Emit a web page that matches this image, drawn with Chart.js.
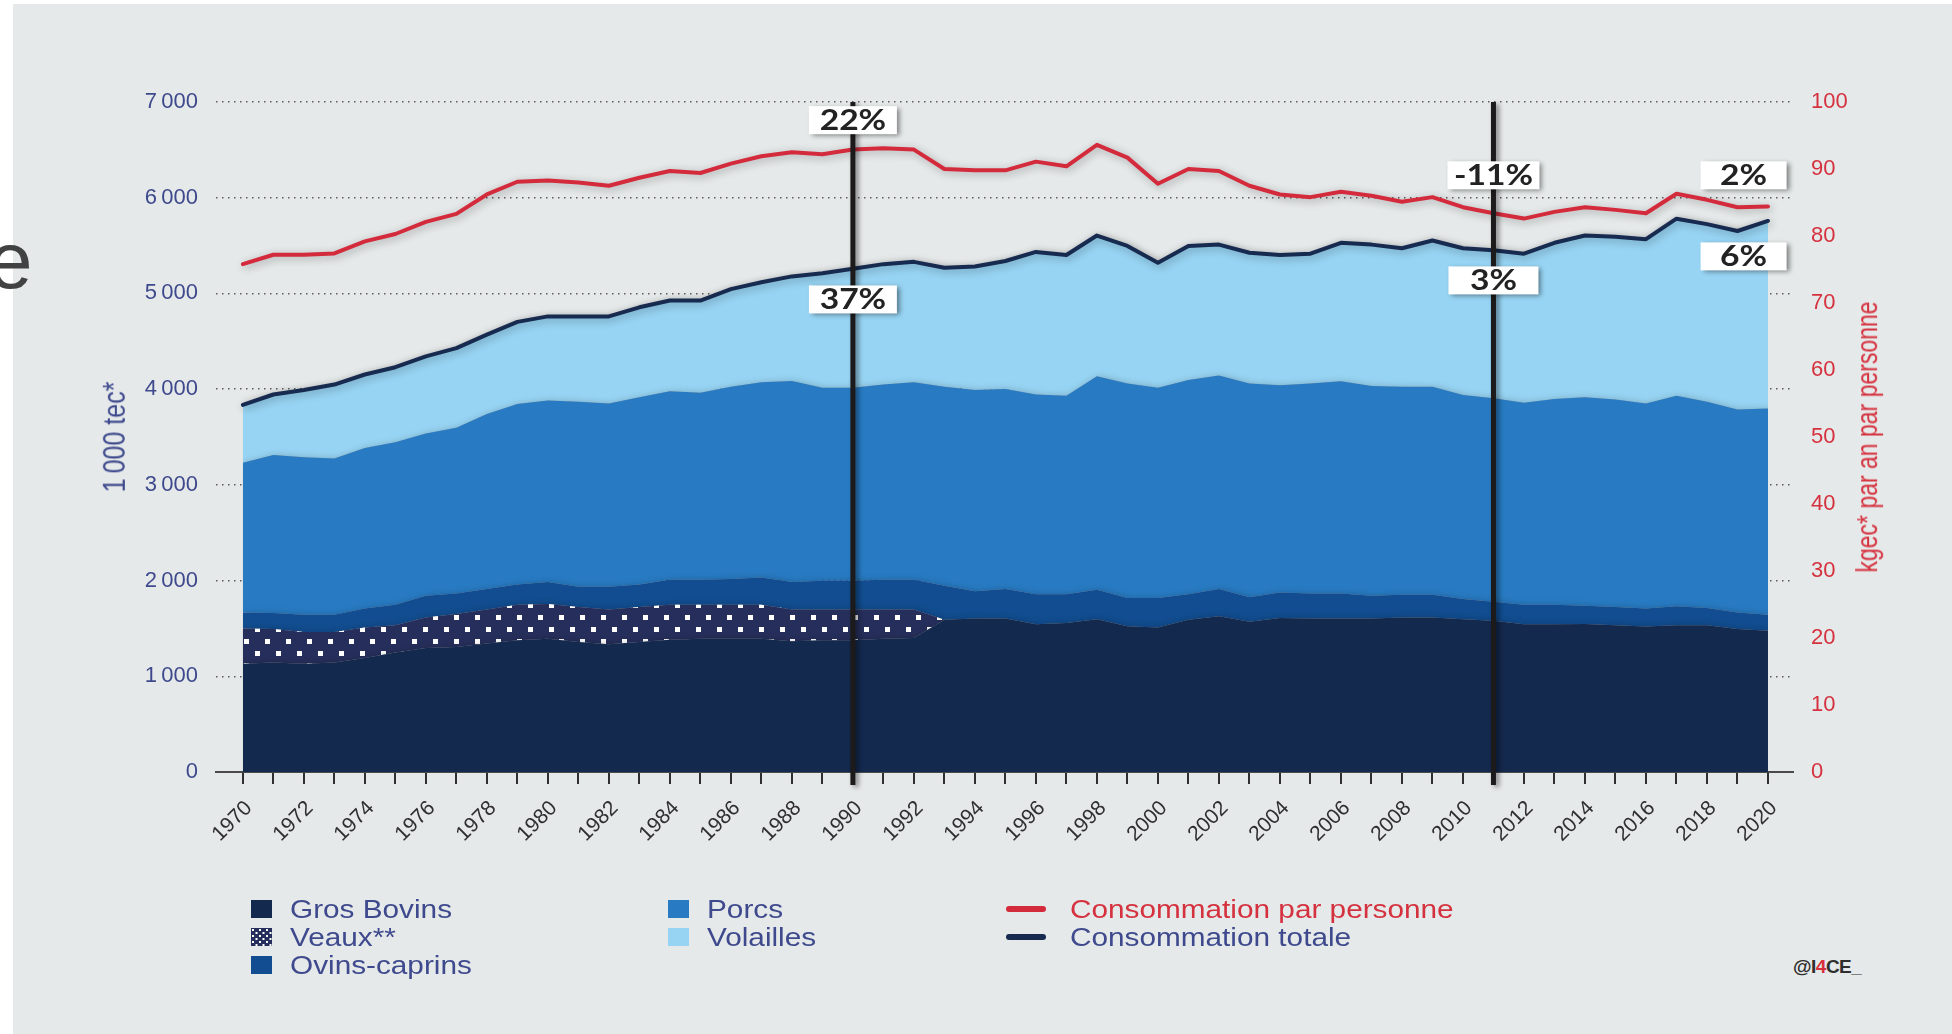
<!DOCTYPE html>
<html lang="fr">
<head>
<meta charset="utf-8">
<title>Consommation de viande en France, 1970-2020</title>
<script src="https://cdn.jsdelivr.net/npm/chart.js@4.4.1/dist/chart.umd.min.js"></script>
<style>
  html, body { margin: 0; padding: 0; }
  body {
    width: 1952px; height: 1034px; position: relative; overflow: hidden;
    background: #ffffff;
    font-family: 'Liberation Sans', Arial, sans-serif;
  }
  #panel { position: absolute; left: 13px; top: 4px; width: 1939px; height: 1030px; background: #e6e9e9; }
  #chart { position: absolute; left: 0; top: 0; }
  #stray { position: absolute; left: -12px; top: 221px; font-size: 80px; line-height: 80px; color: #424242; }
  .axis-title {
    position: absolute; white-space: nowrap;
    transform: translate(-50%, -50%) rotate(-90deg) scaleY(1.25);
  }
  #title-left  { left: 114px;  top: 437px; color: #3e4a8d; font-size: 25px; }
  #title-right { left: 1868px; top: 437px; color: #d5323f; font-size: 23px; }

  #legend {
    position: absolute; left: 251px; top: 895px;
    display: grid; grid-template-columns: 417px 338px 400px; grid-template-rows: repeat(3, 28px);
  }
  .lg-item { display: flex; align-items: center; }
  .lg-box { width: 21px; height: 18px; flex: none; }
  .lg-line { width: 40px; height: 6px; border-radius: 3px; flex: none; margin-right: 6px; }
  .lg-text {
    display: inline-block; margin-left: 18px; font-size: 25px; color: #3e4a8d;
    transform: scaleX(1.19); transform-origin: left center; white-space: nowrap;
  }
  #credit { position: absolute; left: 1793px; top: 956px; font-size: 19px; font-weight: bold; color: #2e2e2e; letter-spacing: -0.5px; }
  #credit span { color: #d6303c; }
</style>
</head>
<body>
<div id="panel"></div>
<div id="stray">e</div>
<canvas id="chart" width="1952" height="860"></canvas>
<div class="axis-title" id="title-left">1&#8239;000 tec*</div>
<div class="axis-title" id="title-right">kgec* par an par personne</div>
<div id="legend"></div>
<div id="credit">@I<span>4</span>CE_</div>

<script>
/* ── Data (1 000 tec) ──────────────────────────────────── */
const years = Array.from({ length: 51 }, (_, i) => 1970 + i);

const grosBovins = [
  1130, 1144, 1130, 1144, 1191, 1248, 1296, 1305, 1343, 1376,
  1391, 1357, 1334, 1357, 1381, 1391, 1391, 1391, 1367, 1376,
  1376, 1391, 1400, 1590, 1604, 1604, 1543, 1557, 1595, 1523,
  1509, 1590, 1628, 1571, 1609, 1604, 1604, 1604, 1614, 1614,
  1595, 1580, 1543, 1543, 1547, 1533, 1519, 1533, 1533, 1495, 1476
];
const veaux = [
  370, 351, 332, 318, 318, 285, 318, 347, 356, 371,
  365, 366, 365, 366, 366, 356, 356, 356, 332, 323,
  323, 308, 299, 0, 0, 0, 0, 0, 0, 0,
  0, 0, 0, 0, 0, 0, 0, 0, 0, 0,
  0, 0, 0, 0, 0, 0, 0, 0, 0, 0, 0
];
const ovinsCaprins = [
  166, 166, 180, 180, 200, 214, 227, 213, 214, 213,
  228, 213, 237, 237, 261, 261, 270, 284, 285, 299,
  299, 309, 309, 356, 285, 309, 313, 299, 308, 295,
  309, 266, 285, 256, 266, 261, 261, 237, 237, 237,
  213, 200, 204, 204, 190, 190, 190, 199, 180, 171, 166
];
const porcs = [
  1566, 1652, 1647, 1633, 1675, 1699, 1695, 1732, 1827, 1884,
  1898, 1932, 1913, 1955, 1969, 1955, 2008, 2041, 2102, 2017,
  2017, 2040, 2064, 2079, 2102, 2088, 2088, 2074, 2231, 2240,
  2197, 2240, 2230, 2231, 2165, 2193, 2217, 2193, 2174, 2174,
  2131, 2126, 2112, 2149, 2178, 2169, 2140, 2198, 2155, 2121, 2155
];
const volailles = [
  603, 631, 702, 773, 769, 783, 807, 831, 830, 859,
  878, 892, 911, 940, 949, 963, 1020, 1044, 1092, 1196,
  1243, 1258, 1258, 1243, 1291, 1338, 1490, 1471, 1471, 1438,
  1305, 1400, 1367, 1367, 1361, 1357, 1447, 1476, 1447, 1528,
  1533, 1544, 1556, 1633, 1690, 1699, 1718, 1851, 1856, 1865, 1960
];
// kgec par an par personne (right axis)
const parPersonne = [
  75.8, 77.2, 77.2, 77.4, 79.2, 80.3, 82.1, 83.3, 86.2, 88.1,
  88.3, 88.0, 87.5, 88.7, 89.7, 89.4, 90.8, 91.9, 92.5, 92.2,
  92.9, 93.1, 92.9, 90.0, 89.8, 89.8, 91.1, 90.4, 93.6, 91.7,
  87.8, 90.0, 89.7, 87.5, 86.2, 85.8, 86.6, 86.0, 85.1, 85.8,
  84.3, 83.4, 82.6, 83.6, 84.3, 83.9, 83.4, 86.3, 85.4, 84.3, 84.4
];

const leftTicks  = [0, 1000, 2000, 3000, 4000, 5000, 6000, 7000];
const rightTicks = [0, 10, 20, 30, 40, 50, 60, 70, 80, 90, 100];

/* ── Annotations ──────────────────────────────────────── */
const markerYears = [1990, 2011];
const callouts = [
  { year: 1990,   value: 6810, text: '22%',  w: 88 },
  { year: 1990,   value: 4937, text: '37%',  w: 88 },
  { year: 2011,   value: 6234, text: '-11%', w: 92 },
  { year: 2011,   value: 5136, text: '3%',   w: 90 },
  { year: 2019.2, value: 6234, text: '2%',   w: 86 },
  { year: 2019.2, value: 5387, text: '6%',   w: 86 },
];

/* ── Colours ──────────────────────────────────────────── */
const C = {
  bovins: '#14294e', veaux: '#262f5b', ovins: '#114d90', porcs: '#287bc3', volailles: '#97d4f3',
  total: '#172a50', red: '#d42b3c', blue: '#3e4a8d', redText: '#d5323f', grid: '#5c5c5c'
};

function dotTile(w, h, dots, size) {
  const c = document.createElement('canvas');
  c.width = w; c.height = h;
  const g = c.getContext('2d');
  g.fillStyle = C.veaux;
  g.fillRect(0, 0, w, h);
  g.fillStyle = '#ffffff';
  dots.forEach(([dx, dy]) => g.fillRect(dx, dy, size, size));
  return c;
}
const veauxPattern = document.createElement('canvas').getContext('2d')
  .createPattern(dotTile(21, 24, [[3, 3], [13, 15]], 5), 'repeat');

const pts = arr => years.map((yr, i) => ({ x: yr, y: arr[i] }));
const totals = years.map((_, i) => grosBovins[i] + veaux[i] + ovinsCaprins[i] + porcs[i] + volailles[i]);

const area = (label, arr, bg, fill) => ({
  label, data: pts(arr), backgroundColor: bg, fill, yAxisID: 'y',
  borderWidth: 0, borderColor: 'transparent', pointRadius: 0, tension: 0, order: 1
});

/* ── Plugins ──────────────────────────────────────────── */
const shadowPlugin = {
  id: 'softShadow',
  beforeDatasetsDraw(chart) {
    const ctx = chart.ctx;
    ctx.save();
    ctx.shadowColor = 'rgba(0,0,0,0.32)';
    ctx.shadowBlur = 9;
    ctx.shadowOffsetX = 2;
    ctx.shadowOffsetY = 2;
  },
  afterDatasetsDraw(chart) {
    chart.ctx.restore();
  }
};

const markerPlugin = {
  id: 'markers',
  afterDatasetsDraw(chart) {
    const { ctx, scales: { x, y } } = chart;
    ctx.save();
    ctx.shadowColor = 'rgba(0,0,0,0.45)';
    ctx.shadowBlur = 5;
    ctx.shadowOffsetX = 3;
    ctx.shadowOffsetY = 2;
    const top = y.getPixelForValue(7000);
    const bottom = y.getPixelForValue(0) + 13;
    ctx.fillStyle = '#1c1a1a';
    markerYears.forEach(yr => {
      const px = x.getPixelForValue(yr);
      ctx.fillRect(px - 2.5, top, 5, bottom - top);
    });
    callouts.forEach(c => {
      const cx = x.getPixelForValue(c.year);
      const cy = y.getPixelForValue(c.value);
      ctx.fillStyle = '#ffffff';
      ctx.fillRect(cx - c.w / 2, cy - 14, c.w, 28);
    });
    ctx.shadowColor = 'transparent';
    ctx.fillStyle = '#222222';
    ctx.font = 'bold 28px Lato, "Open Sans", sans-serif';
    ctx.textAlign = 'center';
    ctx.textBaseline = 'middle';
    callouts.forEach(c => {
      const cx = x.getPixelForValue(c.year);
      const cy = y.getPixelForValue(c.value);
      ctx.save();
      ctx.translate(cx, cy + 1);
      ctx.scale(1.2, 1);
      ctx.fillText(c.text, 0, 0);
      ctx.restore();
    });
    ctx.restore();
  }
};

/* ── Chart ────────────────────────────────────────────── */
const tickFont = { family: "'Liberation Sans', Arial, sans-serif", size: 22 };

new Chart(document.getElementById('chart'), {
  type: 'line',
  data: {
    datasets: [
      area('Gros Bovins', grosBovins, C.bovins, 'origin'),
      area('Veaux**', veaux, veauxPattern, '-1'),
      area('Ovins-caprins', ovinsCaprins, C.ovins, '-1'),
      area('Porcs', porcs, C.porcs, '-1'),
      area('Volailles', volailles, C.volailles, '-1'),
      {
        label: 'Consommation totale', data: pts(totals), stack: 'total', yAxisID: 'y',
        borderColor: C.total, borderWidth: 4, fill: false, pointRadius: 0, tension: 0,
        borderJoinStyle: 'round', borderCapStyle: 'round', order: 0
      },
      {
        label: 'Consommation par personne', data: pts(parPersonne), yAxisID: 'y2',
        borderColor: C.red, borderWidth: 4, fill: false, pointRadius: 0, tension: 0,
        borderJoinStyle: 'round', borderCapStyle: 'round', order: 0
      }
    ]
  },
  options: {
    responsive: false,
    animation: false,
    devicePixelRatio: 1,
    layout: { padding: { top: 102, left: 0, right: 0, bottom: 0 } },
    plugins: { legend: { display: false }, tooltip: { enabled: false } },
    scales: {
      x: {
        type: 'linear', min: 1969.12, max: 2020.82,
        afterBuildTicks: s => { s.ticks = years.map(v => ({ value: v })); },
        afterFit: s => { s.height = 88; },
        grid: { drawOnChartArea: false, drawTicks: true, tickLength: 12, color: '#2f2f2f', lineWidth: 2 },
        border: { display: true, color: '#4a4a4a', width: 2 },
        ticks: {
          autoSkip: false, minRotation: 45, maxRotation: 45, padding: 12, labelOffset: 6,
          color: '#2f2f2f', font: { family: tickFont.family, size: 21 },
          callback: v => (v % 2 === 0 ? String(v) : '')
        }
      },
      y: {
        position: 'left', stacked: true, min: 0, max: 7000,
        afterBuildTicks: s => { s.ticks = leftTicks.map(v => ({ value: v })); },
        afterFit: s => { s.width = 216; },
        grid: { drawTicks: false, lineWidth: 1.5, color: ctx => (ctx.tick && ctx.tick.value === 0 ? 'transparent' : C.grid) },
        border: { display: false, dash: [1.5, 4.5] },
        ticks: {
          padding: 18, color: C.blue, font: tickFont,
          callback: v => (v >= 1000 ? Math.floor(v / 1000) + '\u202f' + String(v % 1000).padStart(3, '0') : String(v))
        }
      },
      y2: {
        position: 'right', min: 0, max: 100,
        afterBuildTicks: s => { s.ticks = rightTicks.map(v => ({ value: v })); },
        afterFit: s => { s.width = 159; },
        grid: { display: false, drawTicks: false },
        border: { display: false },
        ticks: { padding: 18, color: C.redText, font: tickFont }
      }
    }
  },
  plugins: [shadowPlugin, markerPlugin]
});

/* ── Legend ───────────────────────────────────────────── */
const legendItems = [
  { text: 'Gros Bovins', kind: 'box', color: C.bovins, col: 1, row: 1 },
  { text: 'Veaux**', kind: 'pattern', col: 1, row: 2 },
  { text: 'Ovins-caprins', kind: 'box', color: C.ovins, col: 1, row: 3 },
  { text: 'Porcs', kind: 'box', color: C.porcs, col: 2, row: 1 },
  { text: 'Volailles', kind: 'box', color: C.volailles, col: 2, row: 2 },
  { text: 'Consommation par personne', kind: 'line', color: C.red, textColor: C.redText, col: 3, row: 1 },
  { text: 'Consommation totale', kind: 'line', color: C.total, col: 3, row: 2 },
];
const legendEl = document.getElementById('legend');
legendItems.forEach(item => {
  const div = document.createElement('div');
  div.className = 'lg-item';
  div.style.gridColumn = item.col;
  div.style.gridRow = item.row;
  let sw;
  if (item.kind === 'pattern') {
    sw = document.createElement('canvas');
    sw.width = 21; sw.height = 18;
    sw.className = 'lg-box';
    const g = sw.getContext('2d');
    g.fillStyle = g.createPattern(dotTile(7, 6, [[1, 1], [4.5, 4]], 2), 'repeat');
    g.fillRect(0, 0, 21, 18);
  } else {
    sw = document.createElement('span');
    sw.className = item.kind === 'line' ? 'lg-line' : 'lg-box';
    sw.style.background = item.color;
  }
  const tx = document.createElement('span');
  tx.className = 'lg-text';
  tx.textContent = item.text;
  if (item.textColor) tx.style.color = item.textColor;
  div.appendChild(sw);
  div.appendChild(tx);
  legendEl.appendChild(div);
});
</script>
</body>
</html>
